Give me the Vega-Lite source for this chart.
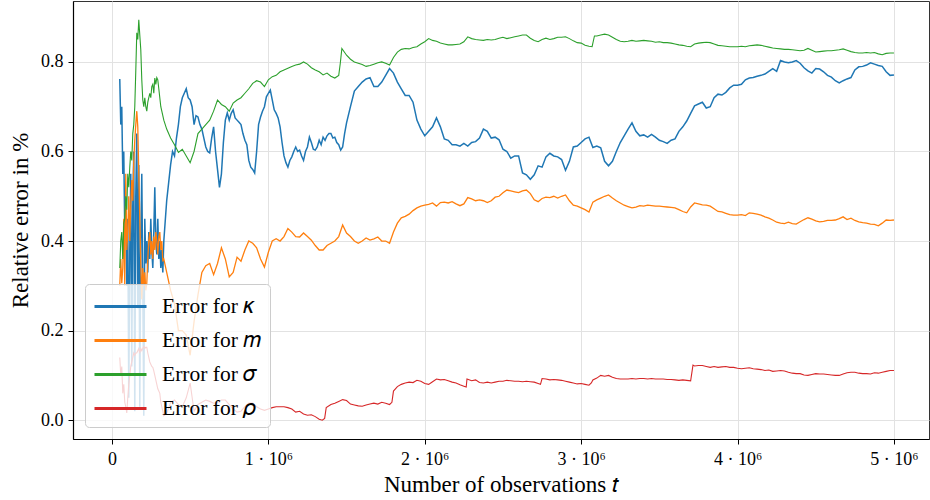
{
  "$schema": "https://vega.github.io/schema/vega-lite/v6.json",
  "width": 856,
  "height": 438,
  "autosize": {"type": "none"},
  "padding": {"left": 73, "top": 1, "right": 1, "bottom": 61},
  "background": "white",
  "config": {
    "font": "Liberation Serif",
    "view": {"stroke": "#333333", "strokeWidth": 1},
    "axis": {
      "labelFont": "Liberation Serif",
      "titleFont": "Liberation Serif",
      "labelColor": "black",
      "titleColor": "black",
      "titleFontWeight": "normal",
      "labelFontSize": 18,
      "titleFontSize": 23,
      "tickColor": "black",
      "tickSize": 5,
      "domainColor": "black",
      "domainWidth": 1.2,
      "gridColor": "#e2e2e2",
      "gridWidth": 1
    },
    "legend": {
      "orient": "bottom-left",
      "offset": 12,
      "symbolType": "M-1,0L3,0",
      "symbolStrokeWidth": 2.8,
      "symbolSize": 676,
      "labelFont": "Liberation Serif",
      "labelFontSize": 21.5,
      "labelColor": "black",
      "padding": 8,
      "rowPadding": 9,
      "labelOffset": 40,
      "labelLimit": 300,
      "fillColor": "rgba(255,255,255,0.8)",
      "strokeColor": "#cccccc",
      "cornerRadius": 4
    }
  },
  "datasets": {
    "kappa": [
      {"t":0.05,"v":0.762},{"t":0.0564,"v":0.66},{"t":0.0628,"v":0.70},{"t":0.0692,"v":0.55},{"t":0.0756,"v":0.60},{"t":0.082,"v":0.42},{"t":0.0884,"v":0.48},{"t":0.0948,"v":0.30},{"t":0.1012,"v":0.45},{"t":0.1076,"v":0.05},{"t":0.114,"v":0.38},{"t":0.1204,"v":0.55},{"t":0.1268,"v":0.12},{"t":0.1332,"v":0.48},{"t":0.1396,"v":0.60},{"t":0.146,"v":0.02},{"t":0.1524,"v":0.50},{"t":0.1588,"v":0.64},{"t":0.1652,"v":0.25},{"t":0.1716,"v":0.57},{"t":0.178,"v":0.03},{"t":0.1844,"v":0.40},{"t":0.1908,"v":0.55},{"t":0.1972,"v":0.30},{"t":0.2036,"v":0.01},{"t":0.21,"v":0.45},{"t":0.2164,"v":0.35},{"t":0.2228,"v":0.40},{"t":0.2292,"v":0.33},{"t":0.2356,"v":0.42},{"t":0.242,"v":0.36},{"t":0.2484,"v":0.45},{"t":0.2548,"v":0.38},{"t":0.2612,"v":0.34},{"t":0.2676,"v":0.42},{"t":0.274,"v":0.52},{"t":0.2804,"v":0.40},{"t":0.2868,"v":0.37},{"t":0.2932,"v":0.45},{"t":0.2996,"v":0.36},{"t":0.306,"v":0.40},{"t":0.3124,"v":0.34},{"t":0.3188,"v":0.38},{"t":0.3252,"v":0.33},{"t":0.3316,"v":0.40},
      {"t":0.35,"v":0.49},{"t":0.3625,"v":0.53},{"t":0.375,"v":0.57},{"t":0.3875,"v":0.60},{"t":0.4,"v":0.59},{"t":0.4125,"v":0.63},{"t":0.425,"v":0.66},{"t":0.4375,"v":0.70},{"t":0.45,"v":0.72},{"t":0.4625,"v":0.73},{"t":0.475,"v":0.74},{"t":0.4875,"v":0.72},{"t":0.5,"v":0.715},{"t":0.5125,"v":0.70},{"t":0.525,"v":0.66},{"t":0.5375,"v":0.68},{"t":0.55,"v":0.677},{"t":0.5625,"v":0.66},{"t":0.575,"v":0.65},{"t":0.5875,"v":0.63},{"t":0.6,"v":0.61},{"t":0.6125,"v":0.60},{"t":0.625,"v":0.597},{"t":0.6375,"v":0.63},{"t":0.65,"v":0.655},{"t":0.6625,"v":0.60},{"t":0.675,"v":0.56},{"t":0.6875,"v":0.52},{"t":0.7,"v":0.55},{"t":0.7125,"v":0.62},{"t":0.725,"v":0.67},{"t":0.7375,"v":0.686},{"t":0.75,"v":0.67},{"t":0.7625,"v":0.685},{"t":0.775,"v":0.693},{"t":0.7875,"v":0.675},{"t":0.8,"v":0.67},{"t":0.8125,"v":0.665},{"t":0.825,"v":0.66},{"t":0.8375,"v":0.64},{"t":0.85,"v":0.625},{"t":0.8625,"v":0.615},{"t":0.875,"v":0.58},{"t":0.8875,"v":0.565},{"t":0.9,"v":0.56},{"t":0.9125,"v":0.552},{"t":0.925,"v":0.60},{"t":0.9375,"v":0.66},{"t":0.95,"v":0.677},{"t":0.9625,"v":0.69},{"t":0.975,"v":0.70},{"t":0.9875,"v":0.722},{"t":1.0,"v":0.73},{"t":1.0125,"v":0.737},{"t":1.025,"v":0.715},{"t":1.0375,"v":0.693},{"t":1.05,"v":0.685},{"t":1.0625,"v":0.675},{"t":1.075,"v":0.655},{"t":1.0875,"v":0.62},{"t":1.1,"v":0.59},{"t":1.1125,"v":0.575},{"t":1.125,"v":0.565},{"t":1.1375,"v":0.58},{"t":1.15,"v":0.588},{"t":1.1625,"v":0.60},{"t":1.175,"v":0.61},{"t":1.1875,"v":0.60},{"t":1.2,"v":0.603},{"t":1.2125,"v":0.59},{"t":1.225,"v":0.58},{"t":1.2375,"v":0.60},{"t":1.25,"v":0.61},{"t":1.2625,"v":0.632},{"t":1.275,"v":0.62},{"t":1.2875,"v":0.605},{"t":1.3,"v":0.603},{"t":1.3125,"v":0.61},{"t":1.325,"v":0.625},{"t":1.3375,"v":0.615},{"t":1.35,"v":0.632},{"t":1.3625,"v":0.625},{"t":1.375,"v":0.635},{"t":1.3875,"v":0.64},{"t":1.4,"v":0.64},{"t":1.4125,"v":0.63},{"t":1.425,"v":0.632},{"t":1.4375,"v":0.62},{"t":1.45,"v":0.615},{"t":1.4625,"v":0.603},{"t":1.475,"v":0.61},{"t":1.4875,"v":0.64},{"t":1.5,"v":0.664},
      {"t":1.525,"v":0.70},{"t":1.55,"v":0.735},{"t":1.575,"v":0.745},{"t":1.6,"v":0.755},{"t":1.625,"v":0.762},{"t":1.65,"v":0.765},{"t":1.675,"v":0.745},{"t":1.7,"v":0.745},{"t":1.725,"v":0.755},{"t":1.75,"v":0.77},{"t":1.775,"v":0.785},{"t":1.8,"v":0.775},{"t":1.825,"v":0.755},{"t":1.85,"v":0.74},{"t":1.875,"v":0.725},{"t":1.9,"v":0.725},{"t":1.925,"v":0.71},{"t":1.95,"v":0.67},{"t":1.975,"v":0.65},{"t":2.0,"v":0.635},{"t":2.025,"v":0.645},{"t":2.05,"v":0.655},{"t":2.075,"v":0.675},{"t":2.1,"v":0.655},{"t":2.125,"v":0.628},{"t":2.15,"v":0.625},{"t":2.175,"v":0.615},{"t":2.2,"v":0.615},{"t":2.225,"v":0.612},{"t":2.25,"v":0.618},{"t":2.275,"v":0.612},{"t":2.3,"v":0.62},{"t":2.325,"v":0.622},{"t":2.35,"v":0.63},{"t":2.375,"v":0.65},{"t":2.4,"v":0.645},{"t":2.425,"v":0.63},{"t":2.45,"v":0.632},{"t":2.475,"v":0.626},{"t":2.5,"v":0.605},{"t":2.525,"v":0.60},{"t":2.55,"v":0.585},{"t":2.575,"v":0.59},{"t":2.6,"v":0.59},{"t":2.625,"v":0.552},{"t":2.65,"v":0.548},{"t":2.675,"v":0.538},{"t":2.7,"v":0.548},{"t":2.725,"v":0.568},{"t":2.75,"v":0.565},{"t":2.775,"v":0.588},{"t":2.8,"v":0.596},{"t":2.825,"v":0.59},{"t":2.85,"v":0.588},{"t":2.875,"v":0.582},{"t":2.9,"v":0.558},{"t":2.925,"v":0.578},{"t":2.95,"v":0.61},{"t":2.975,"v":0.612},{"t":3.0,"v":0.62},{"t":3.025,"v":0.628},{"t":3.05,"v":0.632},{"t":3.075,"v":0.609},{"t":3.1,"v":0.612},{"t":3.125,"v":0.608},{"t":3.15,"v":0.578},{"t":3.175,"v":0.568},{"t":3.2,"v":0.578},{"t":3.225,"v":0.60},{"t":3.25,"v":0.62},{"t":3.275,"v":0.635},{"t":3.3,"v":0.65},{"t":3.325,"v":0.664},{"t":3.35,"v":0.645},{"t":3.375,"v":0.635},{"t":3.4,"v":0.637},{"t":3.425,"v":0.632},{"t":3.45,"v":0.638},{"t":3.475,"v":0.632},{"t":3.5,"v":0.625},{"t":3.525,"v":0.622},{"t":3.55,"v":0.618},{"t":3.575,"v":0.625},{"t":3.6,"v":0.628},{"t":3.625,"v":0.645},{"t":3.65,"v":0.655},{"t":3.675,"v":0.668},{"t":3.7,"v":0.685},{"t":3.725,"v":0.702},{"t":3.75,"v":0.706},{"t":3.775,"v":0.71},{"t":3.8,"v":0.697},{"t":3.825,"v":0.70},{"t":3.85,"v":0.72},{"t":3.875,"v":0.728},{"t":3.9,"v":0.726},{"t":3.925,"v":0.732},{"t":3.95,"v":0.742},{"t":3.975,"v":0.748},{"t":4.0,"v":0.748},{"t":4.025,"v":0.75},{"t":4.05,"v":0.76},{"t":4.075,"v":0.764},{"t":4.1,"v":0.765},{"t":4.125,"v":0.768},{"t":4.15,"v":0.77},{"t":4.175,"v":0.773},{"t":4.2,"v":0.779},{"t":4.225,"v":0.785},{"t":4.25,"v":0.779},{"t":4.275,"v":0.803},{"t":4.3,"v":0.80},{"t":4.325,"v":0.798},{"t":4.35,"v":0.80},{"t":4.375,"v":0.803},{"t":4.4,"v":0.797},{"t":4.425,"v":0.787},{"t":4.45,"v":0.78},{"t":4.475,"v":0.775},{"t":4.5,"v":0.785},{"t":4.525,"v":0.784},{"t":4.55,"v":0.778},{"t":4.575,"v":0.77},{"t":4.6,"v":0.766},{"t":4.625,"v":0.758},{"t":4.65,"v":0.753},{"t":4.675,"v":0.758},{"t":4.7,"v":0.762},{"t":4.725,"v":0.765},{"t":4.75,"v":0.782},{"t":4.775,"v":0.789},{"t":4.8,"v":0.79},{"t":4.825,"v":0.793},{"t":4.85,"v":0.798},{"t":4.875,"v":0.795},{"t":4.9,"v":0.792},{"t":4.925,"v":0.79},{"t":4.95,"v":0.778},{"t":4.975,"v":0.77},{"t":5.0,"v":0.771}
    ],
    "m": [
      {"t":0.05,"v":0.30},{"t":0.0564,"v":0.36},{"t":0.0628,"v":0.306},{"t":0.0692,"v":0.34},{"t":0.0756,"v":0.45},{"t":0.082,"v":0.30},{"t":0.0884,"v":0.55},{"t":0.0948,"v":0.38},{"t":0.1012,"v":0.42},{"t":0.1076,"v":0.50},{"t":0.114,"v":0.40},{"t":0.1204,"v":0.48},{"t":0.1268,"v":0.536},{"t":0.1332,"v":0.49},{"t":0.1396,"v":0.58},{"t":0.146,"v":0.625},{"t":0.1524,"v":0.66},{"t":0.1588,"v":0.69},{"t":0.1652,"v":0.655},{"t":0.1716,"v":0.55},{"t":0.178,"v":0.45},{"t":0.1844,"v":0.35},{"t":0.1908,"v":0.27},{"t":0.1972,"v":0.34},{"t":0.2036,"v":0.30},{"t":0.21,"v":0.33},{"t":0.2164,"v":0.29},{"t":0.2228,"v":0.306},{"t":0.2292,"v":0.36},{"t":0.2356,"v":0.40},{"t":0.242,"v":0.42},{"t":0.2484,"v":0.37},{"t":0.2548,"v":0.40},{"t":0.2612,"v":0.36},{"t":0.2676,"v":0.41},{"t":0.274,"v":0.38},{"t":0.2804,"v":0.42},{"t":0.2868,"v":0.40},{"t":0.2932,"v":0.37},{"t":0.2996,"v":0.41},{"t":0.306,"v":0.42},{"t":0.3124,"v":0.38},{"t":0.3188,"v":0.40},{"t":0.3252,"v":0.357},{"t":0.3316,"v":0.36},
      {"t":0.35,"v":0.33},{"t":0.375,"v":0.29},{"t":0.4,"v":0.26},{"t":0.425,"v":0.20},{"t":0.45,"v":0.20},{"t":0.475,"v":0.19},{"t":0.5,"v":0.145},{"t":0.525,"v":0.22},{"t":0.55,"v":0.28},{"t":0.575,"v":0.33},{"t":0.6,"v":0.345},{"t":0.625,"v":0.35},{"t":0.65,"v":0.325},{"t":0.675,"v":0.35},{"t":0.7,"v":0.385},{"t":0.725,"v":0.36},{"t":0.75,"v":0.32},{"t":0.775,"v":0.33},{"t":0.8,"v":0.364},{"t":0.825,"v":0.355},{"t":0.85,"v":0.38},{"t":0.875,"v":0.40},{"t":0.9,"v":0.395},{"t":0.925,"v":0.385},{"t":0.95,"v":0.36},{"t":0.975,"v":0.342},{"t":1.0,"v":0.375},{"t":1.025,"v":0.40},{"t":1.05,"v":0.405},{"t":1.075,"v":0.40},{"t":1.1,"v":0.41},{"t":1.125,"v":0.428},{"t":1.15,"v":0.42},{"t":1.175,"v":0.41},{"t":1.2,"v":0.409},{"t":1.225,"v":0.418},{"t":1.25,"v":0.41},{"t":1.275,"v":0.402},{"t":1.3,"v":0.39},{"t":1.325,"v":0.38},{"t":1.35,"v":0.38},{"t":1.375,"v":0.39},{"t":1.4,"v":0.395},{"t":1.425,"v":0.40},{"t":1.45,"v":0.41},{"t":1.475,"v":0.436},{"t":1.5,"v":0.418},{"t":1.525,"v":0.41},{"t":1.55,"v":0.40},{"t":1.575,"v":0.395},{"t":1.6,"v":0.40},{"t":1.625,"v":0.407},{"t":1.65,"v":0.402},{"t":1.675,"v":0.405},{"t":1.7,"v":0.409},{"t":1.725,"v":0.40},{"t":1.75,"v":0.40},{"t":1.775,"v":0.395},{"t":1.8,"v":0.42},{"t":1.825,"v":0.44},{"t":1.85,"v":0.452},{"t":1.875,"v":0.455},{"t":1.9,"v":0.46},{"t":1.925,"v":0.468},{"t":1.95,"v":0.474},{"t":1.975,"v":0.478},{"t":2.0,"v":0.48},{"t":2.025,"v":0.482},{"t":2.05,"v":0.485},{"t":2.075,"v":0.478},{"t":2.1,"v":0.486},{"t":2.125,"v":0.487},{"t":2.15,"v":0.485},{"t":2.175,"v":0.488},{"t":2.2,"v":0.483},{"t":2.225,"v":0.479},{"t":2.25,"v":0.483},{"t":2.275,"v":0.497},{"t":2.3,"v":0.494},{"t":2.325,"v":0.49},{"t":2.35,"v":0.492},{"t":2.375,"v":0.49},{"t":2.4,"v":0.486},{"t":2.425,"v":0.49},{"t":2.45,"v":0.498},{"t":2.475,"v":0.50},{"t":2.5,"v":0.508},{"t":2.525,"v":0.514},{"t":2.55,"v":0.512},{"t":2.575,"v":0.51},{"t":2.6,"v":0.508},{"t":2.625,"v":0.512},{"t":2.65,"v":0.514},{"t":2.675,"v":0.506},{"t":2.7,"v":0.492},{"t":2.725,"v":0.488},{"t":2.75,"v":0.495},{"t":2.775,"v":0.498},{"t":2.8,"v":0.497},{"t":2.825,"v":0.50},{"t":2.85,"v":0.496},{"t":2.875,"v":0.50},{"t":2.9,"v":0.503},{"t":2.925,"v":0.49},{"t":2.95,"v":0.48},{"t":2.975,"v":0.478},{"t":3.0,"v":0.474},{"t":3.025,"v":0.47},{"t":3.05,"v":0.465},{"t":3.075,"v":0.487},{"t":3.1,"v":0.492},{"t":3.125,"v":0.496},{"t":3.15,"v":0.50},{"t":3.175,"v":0.503},{"t":3.2,"v":0.496},{"t":3.225,"v":0.49},{"t":3.25,"v":0.485},{"t":3.275,"v":0.48},{"t":3.3,"v":0.477},{"t":3.325,"v":0.474},{"t":3.35,"v":0.476},{"t":3.375,"v":0.479},{"t":3.4,"v":0.478},{"t":3.425,"v":0.48},{"t":3.45,"v":0.479},{"t":3.475,"v":0.478},{"t":3.5,"v":0.478},{"t":3.525,"v":0.477},{"t":3.55,"v":0.476},{"t":3.575,"v":0.475},{"t":3.6,"v":0.474},{"t":3.625,"v":0.47},{"t":3.65,"v":0.466},{"t":3.675,"v":0.463},{"t":3.7,"v":0.476},{"t":3.725,"v":0.485},{"t":3.75,"v":0.483},{"t":3.775,"v":0.481},{"t":3.8,"v":0.48},{"t":3.825,"v":0.478},{"t":3.85,"v":0.472},{"t":3.875,"v":0.466},{"t":3.9,"v":0.465},{"t":3.925,"v":0.462},{"t":3.95,"v":0.459},{"t":3.975,"v":0.458},{"t":4.0,"v":0.458},{"t":4.025,"v":0.459},{"t":4.05,"v":0.457},{"t":4.075,"v":0.463},{"t":4.1,"v":0.462},{"t":4.125,"v":0.46},{"t":4.15,"v":0.458},{"t":4.175,"v":0.454},{"t":4.2,"v":0.451},{"t":4.225,"v":0.447},{"t":4.25,"v":0.442},{"t":4.275,"v":0.44},{"t":4.3,"v":0.439},{"t":4.325,"v":0.442},{"t":4.35,"v":0.439},{"t":4.375,"v":0.438},{"t":4.4,"v":0.443},{"t":4.425,"v":0.448},{"t":4.45,"v":0.452},{"t":4.475,"v":0.449},{"t":4.5,"v":0.445},{"t":4.525,"v":0.443},{"t":4.55,"v":0.444},{"t":4.575,"v":0.446},{"t":4.6,"v":0.446},{"t":4.625,"v":0.447},{"t":4.65,"v":0.45},{"t":4.675,"v":0.454},{"t":4.7,"v":0.448},{"t":4.725,"v":0.451},{"t":4.75,"v":0.446},{"t":4.775,"v":0.443},{"t":4.8,"v":0.441},{"t":4.825,"v":0.44},{"t":4.85,"v":0.438},{"t":4.875,"v":0.437},{"t":4.9,"v":0.434},{"t":4.925,"v":0.44},{"t":4.95,"v":0.447},{"t":4.975,"v":0.446},{"t":5.0,"v":0.447}
    ],
    "sigma": [
      {"t":0.05,"v":0.34},{"t":0.0564,"v":0.40},{"t":0.0628,"v":0.42},{"t":0.0692,"v":0.36},{"t":0.0756,"v":0.44},{"t":0.082,"v":0.45},{"t":0.0884,"v":0.50},{"t":0.0948,"v":0.47},{"t":0.1012,"v":0.55},{"t":0.1076,"v":0.52},{"t":0.114,"v":0.565},{"t":0.1204,"v":0.60},{"t":0.1268,"v":0.58},{"t":0.1332,"v":0.64},{"t":0.1396,"v":0.66},{"t":0.146,"v":0.70},{"t":0.1524,"v":0.78},{"t":0.1588,"v":0.865},{"t":0.1652,"v":0.85},{"t":0.1716,"v":0.894},{"t":0.178,"v":0.86},{"t":0.1844,"v":0.827},{"t":0.1908,"v":0.76},{"t":0.1972,"v":0.715},{"t":0.2036,"v":0.70},{"t":0.21,"v":0.72},{"t":0.2164,"v":0.70},{"t":0.2228,"v":0.69},{"t":0.2292,"v":0.71},{"t":0.2356,"v":0.72},{"t":0.242,"v":0.73},{"t":0.2484,"v":0.72},{"t":0.2548,"v":0.745},{"t":0.2612,"v":0.75},{"t":0.2676,"v":0.73},{"t":0.274,"v":0.764},{"t":0.2804,"v":0.75},{"t":0.2868,"v":0.765},{"t":0.2932,"v":0.76},{"t":0.2996,"v":0.74},{"t":0.306,"v":0.72},{"t":0.3124,"v":0.70},{"t":0.3188,"v":0.69},{"t":0.3252,"v":0.68},{"t":0.3316,"v":0.67},
      {"t":0.35,"v":0.65},{"t":0.375,"v":0.63},{"t":0.4,"v":0.615},{"t":0.425,"v":0.598},{"t":0.45,"v":0.605},{"t":0.475,"v":0.59},{"t":0.5,"v":0.575},{"t":0.525,"v":0.60},{"t":0.55,"v":0.64},{"t":0.575,"v":0.65},{"t":0.6,"v":0.66},{"t":0.625,"v":0.67},{"t":0.65,"v":0.69},{"t":0.675,"v":0.715},{"t":0.7,"v":0.705},{"t":0.725,"v":0.70},{"t":0.75,"v":0.69},{"t":0.775,"v":0.708},{"t":0.8,"v":0.715},{"t":0.825,"v":0.72},{"t":0.85,"v":0.73},{"t":0.875,"v":0.74},{"t":0.9,"v":0.752},{"t":0.925,"v":0.758},{"t":0.95,"v":0.755},{"t":0.975,"v":0.745},{"t":1.0,"v":0.76},{"t":1.025,"v":0.767},{"t":1.05,"v":0.77},{"t":1.075,"v":0.778},{"t":1.1,"v":0.782},{"t":1.125,"v":0.786},{"t":1.15,"v":0.79},{"t":1.175,"v":0.793},{"t":1.2,"v":0.795},{"t":1.225,"v":0.80},{"t":1.25,"v":0.795},{"t":1.275,"v":0.787},{"t":1.3,"v":0.782},{"t":1.325,"v":0.778},{"t":1.35,"v":0.771},{"t":1.375,"v":0.775},{"t":1.4,"v":0.768},{"t":1.425,"v":0.764},{"t":1.45,"v":0.77},{"t":1.46,"v":0.797},{"t":1.47,"v":0.83},{"t":1.5,"v":0.815},{"t":1.525,"v":0.806},{"t":1.55,"v":0.80},{"t":1.575,"v":0.797},{"t":1.6,"v":0.794},{"t":1.625,"v":0.79},{"t":1.65,"v":0.792},{"t":1.675,"v":0.795},{"t":1.7,"v":0.798},{"t":1.725,"v":0.80},{"t":1.75,"v":0.797},{"t":1.775,"v":0.793},{"t":1.8,"v":0.81},{"t":1.825,"v":0.822},{"t":1.85,"v":0.828},{"t":1.875,"v":0.83},{"t":1.9,"v":0.829},{"t":1.925,"v":0.832},{"t":1.95,"v":0.834},{"t":1.975,"v":0.84},{"t":2.0,"v":0.845},{"t":2.025,"v":0.852},{"t":2.05,"v":0.848},{"t":2.075,"v":0.846},{"t":2.1,"v":0.842},{"t":2.125,"v":0.84},{"t":2.15,"v":0.838},{"t":2.175,"v":0.838},{"t":2.2,"v":0.839},{"t":2.225,"v":0.84},{"t":2.25,"v":0.845},{"t":2.275,"v":0.856},{"t":2.3,"v":0.852},{"t":2.325,"v":0.85},{"t":2.35,"v":0.849},{"t":2.375,"v":0.848},{"t":2.4,"v":0.85},{"t":2.425,"v":0.849},{"t":2.45,"v":0.85},{"t":2.475,"v":0.853},{"t":2.5,"v":0.855},{"t":2.525,"v":0.852},{"t":2.55,"v":0.854},{"t":2.575,"v":0.856},{"t":2.6,"v":0.858},{"t":2.625,"v":0.86},{"t":2.65,"v":0.86},{"t":2.675,"v":0.853},{"t":2.7,"v":0.848},{"t":2.725,"v":0.845},{"t":2.75,"v":0.85},{"t":2.775,"v":0.853},{"t":2.8,"v":0.85},{"t":2.825,"v":0.852},{"t":2.85,"v":0.855},{"t":2.875,"v":0.855},{"t":2.9,"v":0.856},{"t":2.925,"v":0.852},{"t":2.95,"v":0.847},{"t":2.975,"v":0.843},{"t":3.0,"v":0.842},{"t":3.025,"v":0.837},{"t":3.05,"v":0.835},{"t":3.07,"v":0.834},{"t":3.085,"v":0.858},{"t":3.1,"v":0.858},{"t":3.125,"v":0.86},{"t":3.15,"v":0.862},{"t":3.175,"v":0.86},{"t":3.2,"v":0.855},{"t":3.225,"v":0.85},{"t":3.25,"v":0.846},{"t":3.275,"v":0.845},{"t":3.3,"v":0.846},{"t":3.325,"v":0.848},{"t":3.35,"v":0.846},{"t":3.375,"v":0.847},{"t":3.4,"v":0.848},{"t":3.425,"v":0.847},{"t":3.45,"v":0.846},{"t":3.475,"v":0.844},{"t":3.5,"v":0.845},{"t":3.525,"v":0.843},{"t":3.55,"v":0.843},{"t":3.575,"v":0.842},{"t":3.6,"v":0.84},{"t":3.625,"v":0.838},{"t":3.65,"v":0.837},{"t":3.675,"v":0.835},{"t":3.7,"v":0.834},{"t":3.725,"v":0.84},{"t":3.75,"v":0.842},{"t":3.775,"v":0.843},{"t":3.8,"v":0.844},{"t":3.825,"v":0.843},{"t":3.85,"v":0.84},{"t":3.875,"v":0.837},{"t":3.9,"v":0.836},{"t":3.925,"v":0.835},{"t":3.95,"v":0.834},{"t":3.975,"v":0.834},{"t":4.0,"v":0.834},{"t":4.025,"v":0.835},{"t":4.05,"v":0.834},{"t":4.075,"v":0.836},{"t":4.1,"v":0.837},{"t":4.125,"v":0.838},{"t":4.15,"v":0.837},{"t":4.175,"v":0.835},{"t":4.2,"v":0.833},{"t":4.225,"v":0.831},{"t":4.25,"v":0.83},{"t":4.275,"v":0.829},{"t":4.3,"v":0.828},{"t":4.325,"v":0.828},{"t":4.35,"v":0.827},{"t":4.375,"v":0.826},{"t":4.4,"v":0.825},{"t":4.425,"v":0.826},{"t":4.45,"v":0.83},{"t":4.475,"v":0.826},{"t":4.5,"v":0.822},{"t":4.525,"v":0.823},{"t":4.55,"v":0.824},{"t":4.575,"v":0.825},{"t":4.6,"v":0.825},{"t":4.625,"v":0.826},{"t":4.65,"v":0.827},{"t":4.675,"v":0.829},{"t":4.7,"v":0.826},{"t":4.725,"v":0.823},{"t":4.75,"v":0.821},{"t":4.775,"v":0.82},{"t":4.8,"v":0.82},{"t":4.825,"v":0.821},{"t":4.85,"v":0.82},{"t":4.875,"v":0.821},{"t":4.9,"v":0.818},{"t":4.925,"v":0.816},{"t":4.95,"v":0.819},{"t":4.975,"v":0.82},{"t":5.0,"v":0.82}
    ],
    "rho": [
      {"t":0.05,"v":0.14},{"t":0.0564,"v":0.10},{"t":0.0628,"v":0.12},{"t":0.0692,"v":0.06},{"t":0.0756,"v":0.08},{"t":0.082,"v":0.04},{"t":0.0884,"v":0.03},{"t":0.0948,"v":0.016},{"t":0.1012,"v":0.05},{"t":0.1076,"v":0.08},{"t":0.114,"v":0.10},{"t":0.1204,"v":0.12},{"t":0.1268,"v":0.13},{"t":0.1332,"v":0.14},{"t":0.1396,"v":0.15},{"t":0.146,"v":0.145},{"t":0.1524,"v":0.15},{"t":0.1588,"v":0.15},{"t":0.1652,"v":0.155},{"t":0.1716,"v":0.16},{"t":0.178,"v":0.15},{"t":0.1844,"v":0.16},{"t":0.1908,"v":0.155},{"t":0.1972,"v":0.16},{"t":0.2036,"v":0.165},{"t":0.21,"v":0.16},{"t":0.2164,"v":0.163},{"t":0.2228,"v":0.163},{"t":0.2292,"v":0.15},{"t":0.2356,"v":0.14},{"t":0.242,"v":0.13},{"t":0.2484,"v":0.125},{"t":0.2548,"v":0.12},{"t":0.2612,"v":0.118},{"t":0.2676,"v":0.11},{"t":0.274,"v":0.10},{"t":0.2804,"v":0.09},{"t":0.2868,"v":0.08},{"t":0.2932,"v":0.07},{"t":0.2996,"v":0.065},{"t":0.306,"v":0.06},{"t":0.3124,"v":0.04},{"t":0.3188,"v":0.03},{"t":0.3252,"v":0.02},{"t":0.3316,"v":0.01},
      {"t":0.35,"v":0.015},{"t":0.375,"v":0.04},{"t":0.4,"v":0.045},{"t":0.425,"v":0.035},{"t":0.45,"v":0.03},{"t":0.475,"v":0.05},{"t":0.5,"v":0.083},{"t":0.525,"v":0.02},{"t":0.55,"v":0.035},{"t":0.575,"v":0.04},{"t":0.6,"v":0.045},{"t":0.625,"v":0.042},{"t":0.65,"v":0.038},{"t":0.675,"v":0.04},{"t":0.7,"v":0.045},{"t":0.725,"v":0.045},{"t":0.75,"v":0.035},{"t":0.775,"v":0.025},{"t":0.8,"v":0.018},{"t":0.825,"v":0.02},{"t":0.85,"v":0.03},{"t":0.875,"v":0.038},{"t":0.9,"v":0.038},{"t":0.925,"v":0.03},{"t":0.95,"v":0.025},{"t":0.975,"v":0.022},{"t":1.0,"v":0.025},{"t":1.025,"v":0.028},{"t":1.05,"v":0.03},{"t":1.075,"v":0.03},{"t":1.1,"v":0.03},{"t":1.125,"v":0.028},{"t":1.15,"v":0.025},{"t":1.175,"v":0.018},{"t":1.2,"v":0.02},{"t":1.225,"v":0.014},{"t":1.25,"v":0.011},{"t":1.275,"v":0.012},{"t":1.3,"v":0.008},{"t":1.325,"v":0.002},{"t":1.345,"v":0.0},{"t":1.36,"v":0.004},{"t":1.37,"v":0.028},{"t":1.4,"v":0.035},{"t":1.425,"v":0.038},{"t":1.45,"v":0.042},{"t":1.475,"v":0.046},{"t":1.5,"v":0.044},{"t":1.525,"v":0.036},{"t":1.55,"v":0.034},{"t":1.575,"v":0.032},{"t":1.6,"v":0.031},{"t":1.625,"v":0.034},{"t":1.65,"v":0.036},{"t":1.675,"v":0.038},{"t":1.7,"v":0.036},{"t":1.725,"v":0.04},{"t":1.75,"v":0.038},{"t":1.775,"v":0.035},{"t":1.79,"v":0.04},{"t":1.8,"v":0.065},{"t":1.825,"v":0.075},{"t":1.85,"v":0.08},{"t":1.875,"v":0.083},{"t":1.9,"v":0.085},{"t":1.925,"v":0.084},{"t":1.95,"v":0.089},{"t":1.975,"v":0.087},{"t":2.0,"v":0.082},{"t":2.025,"v":0.08},{"t":2.05,"v":0.086},{"t":2.075,"v":0.092},{"t":2.1,"v":0.09},{"t":2.125,"v":0.091},{"t":2.15,"v":0.088},{"t":2.175,"v":0.085},{"t":2.2,"v":0.083},{"t":2.225,"v":0.079},{"t":2.25,"v":0.076},{"t":2.265,"v":0.074},{"t":2.27,"v":0.092},{"t":2.3,"v":0.088},{"t":2.325,"v":0.09},{"t":2.35,"v":0.084},{"t":2.375,"v":0.083},{"t":2.4,"v":0.085},{"t":2.425,"v":0.083},{"t":2.45,"v":0.085},{"t":2.475,"v":0.087},{"t":2.5,"v":0.087},{"t":2.525,"v":0.089},{"t":2.55,"v":0.088},{"t":2.575,"v":0.087},{"t":2.6,"v":0.087},{"t":2.625,"v":0.086},{"t":2.65,"v":0.087},{"t":2.675,"v":0.086},{"t":2.7,"v":0.085},{"t":2.725,"v":0.082},{"t":2.74,"v":0.08},{"t":2.75,"v":0.093},{"t":2.775,"v":0.092},{"t":2.8,"v":0.09},{"t":2.825,"v":0.091},{"t":2.85,"v":0.09},{"t":2.875,"v":0.089},{"t":2.9,"v":0.087},{"t":2.925,"v":0.085},{"t":2.95,"v":0.083},{"t":2.975,"v":0.081},{"t":3.0,"v":0.082},{"t":3.025,"v":0.08},{"t":3.05,"v":0.078},{"t":3.065,"v":0.083},{"t":3.075,"v":0.09},{"t":3.1,"v":0.094},{"t":3.125,"v":0.10},{"t":3.15,"v":0.098},{"t":3.175,"v":0.10},{"t":3.2,"v":0.096},{"t":3.225,"v":0.093},{"t":3.25,"v":0.092},{"t":3.275,"v":0.092},{"t":3.3,"v":0.092},{"t":3.325,"v":0.093},{"t":3.35,"v":0.092},{"t":3.375,"v":0.093},{"t":3.4,"v":0.093},{"t":3.425,"v":0.092},{"t":3.45,"v":0.093},{"t":3.475,"v":0.092},{"t":3.5,"v":0.092},{"t":3.525,"v":0.092},{"t":3.55,"v":0.091},{"t":3.575,"v":0.091},{"t":3.6,"v":0.09},{"t":3.625,"v":0.089},{"t":3.65,"v":0.09},{"t":3.675,"v":0.089},{"t":3.7,"v":0.088},{"t":3.715,"v":0.123},{"t":3.725,"v":0.121},{"t":3.75,"v":0.122},{"t":3.775,"v":0.122},{"t":3.8,"v":0.12},{"t":3.825,"v":0.118},{"t":3.85,"v":0.12},{"t":3.875,"v":0.118},{"t":3.9,"v":0.119},{"t":3.925,"v":0.12},{"t":3.95,"v":0.118},{"t":3.975,"v":0.118},{"t":4.0,"v":0.116},{"t":4.025,"v":0.115},{"t":4.05,"v":0.116},{"t":4.075,"v":0.117},{"t":4.1,"v":0.115},{"t":4.125,"v":0.114},{"t":4.15,"v":0.113},{"t":4.175,"v":0.111},{"t":4.2,"v":0.112},{"t":4.225,"v":0.109},{"t":4.25,"v":0.11},{"t":4.275,"v":0.111},{"t":4.3,"v":0.11},{"t":4.325,"v":0.107},{"t":4.35,"v":0.105},{"t":4.375,"v":0.104},{"t":4.4,"v":0.104},{"t":4.425,"v":0.101},{"t":4.45,"v":0.10},{"t":4.475,"v":0.102},{"t":4.5,"v":0.104},{"t":4.525,"v":0.103},{"t":4.55,"v":0.103},{"t":4.575,"v":0.102},{"t":4.6,"v":0.101},{"t":4.625,"v":0.10},{"t":4.65,"v":0.10},{"t":4.675,"v":0.103},{"t":4.7,"v":0.106},{"t":4.725,"v":0.107},{"t":4.75,"v":0.107},{"t":4.775,"v":0.105},{"t":4.8,"v":0.104},{"t":4.825,"v":0.104},{"t":4.85,"v":0.103},{"t":4.875,"v":0.106},{"t":4.9,"v":0.105},{"t":4.925,"v":0.107},{"t":4.95,"v":0.109},{"t":4.975,"v":0.111},{"t":5.0,"v":0.111}
    ]
  },
  "layer": [
    {
      "data": {"name": "kappa"},
      "mark": {"type": "line", "strokeWidth": 1.5, "clip": true},
      "encoding": {
        "x": {
          "field": "t", "type": "quantitative",
          "scale": {"domain": [-0.249, 5.224], "nice": false, "zero": false},
          "axis": {
            "values": [0, 1, 2, 3, 4, 5],
            "labelExpr": "datum.value == 0 ? '0' : datum.value + ' · 10⁶'",
            "title": "Number of observations 𝑡",
            "labelPadding": 6,
            "titlePadding": 5,
            "grid": true
          }
        },
        "y": {
          "field": "v", "type": "quantitative",
          "scale": {"domain": [-0.042, 0.936], "nice": false, "zero": false},
          "axis": {
            "values": [0, 0.2, 0.4, 0.6, 0.8],
            "format": ".1f",
            "title": "Relative error in %",
            "labelPadding": 5,
            "titlePadding": 8,
            "grid": true
          }
        },
        "color": {
          "datum": "Error for 𝜅",
          "type": "nominal",
          "scale": {
            "domain": ["Error for 𝜅", "Error for 𝑚", "Error for 𝜎", "Error for 𝜌"],
            "range": ["#1f77b4", "#ff7f0e", "#2ca02c", "#d62728"]
          },
          "legend": {"title": null}
        }
      }
    },
    {
      "data": {"name": "m"},
      "mark": {"type": "line", "strokeWidth": 1.3, "clip": true},
      "encoding": {
        "x": {"field": "t", "type": "quantitative"},
        "y": {"field": "v", "type": "quantitative"},
        "color": {"datum": "Error for 𝑚", "type": "nominal"}
      }
    },
    {
      "data": {"name": "sigma"},
      "mark": {"type": "line", "strokeWidth": 1.1, "clip": true},
      "encoding": {
        "x": {"field": "t", "type": "quantitative"},
        "y": {"field": "v", "type": "quantitative"},
        "color": {"datum": "Error for 𝜎", "type": "nominal"}
      }
    },
    {
      "data": {"name": "rho"},
      "mark": {"type": "line", "strokeWidth": 1.1, "clip": true},
      "encoding": {
        "x": {"field": "t", "type": "quantitative"},
        "y": {"field": "v", "type": "quantitative"},
        "color": {"datum": "Error for 𝜌", "type": "nominal"}
      }
    }
  ]
}
